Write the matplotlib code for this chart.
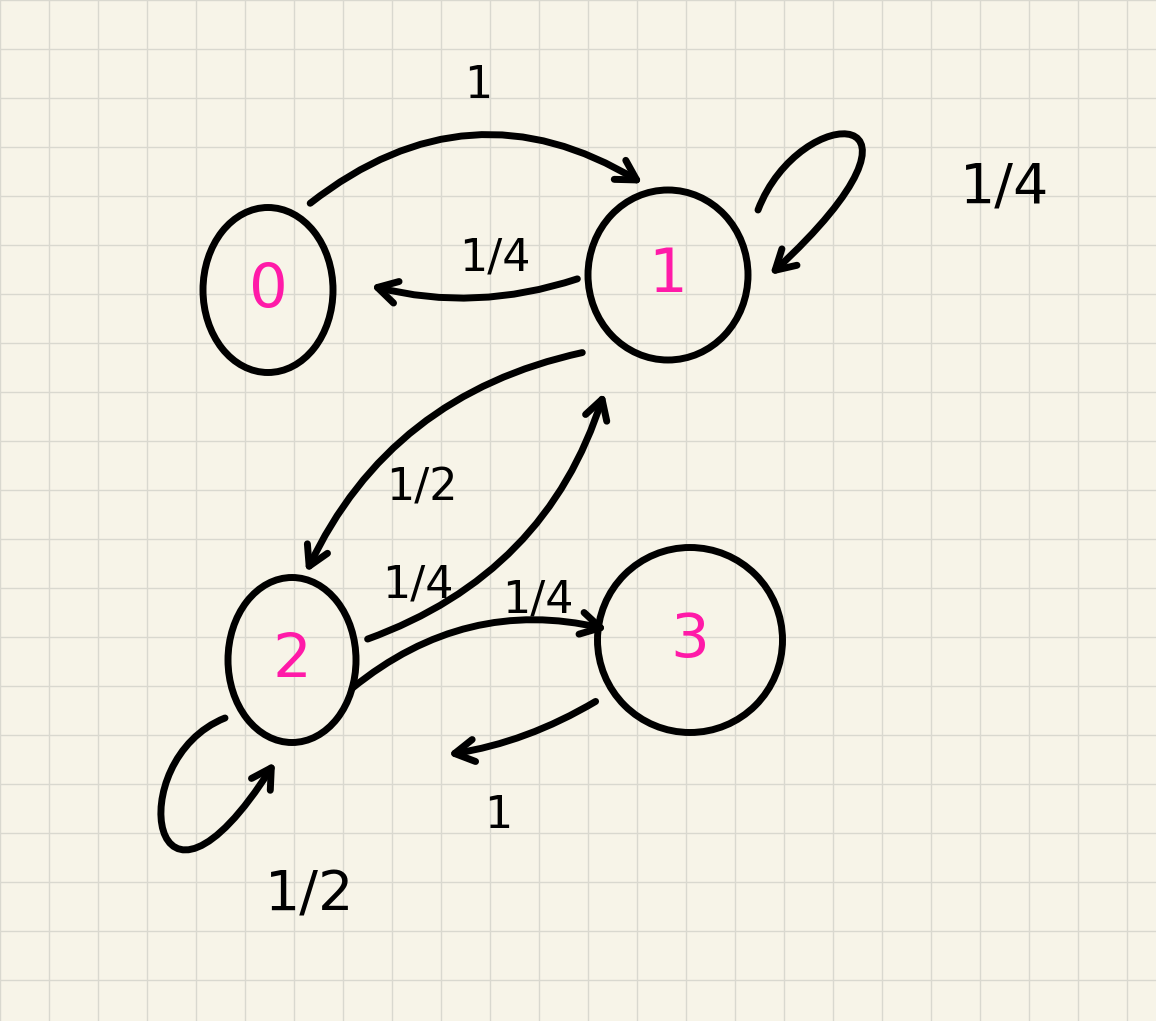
import matplotlib.pyplot as plt
import numpy as np
from matplotlib.patches import Ellipse, FancyArrowPatch
from matplotlib.path import Path

# states and their positions on the page (pixels)
states = ["0", "1", "2", "3"]
centers = [(268, 290), (668, 275), (292, 660), (690, 640)]
radii = [(130, 165), (160, 170), (128, 165), (185, 185)]

# edges: (start, end, curvature, label, label position)
edges = [
    ((308, 205), (645, 185), -0.35, "1", (478, 85)),
    ((580, 278), (368, 285), -0.15, "1/4", (495, 258)),
    ((585, 352), (305, 575), 0.25, "1/2", (422, 488)),
    ((365, 640), (605, 390), 0.25, "1/4", (418, 585)),
    ((350, 690), (610, 630), -0.25, "1/4", (538, 600)),
    ((598, 700), (445, 755), -0.1, "1", (498, 815)),
]
# self loops: start, control 1, control 2, end
loops = [
    [(758, 210), (800, 100), (960, 100), (770, 275)],
    [(225, 718), (120, 760), (150, 960), (275, 762)],
]
loop_labels = [("1/4", (1005, 188)), ("1/2", (310, 895))]

fig = plt.figure(figsize=(11.56, 10.21), dpi=100)
ax = fig.add_axes([0, 0, 1, 1])
ax.set_xlim(0, 1156)
ax.set_ylim(1021, 0)
ax.axis("off")
fig.patch.set_facecolor("#f7f4e8")

for gx in np.arange(0, 1156, 49):
    ax.axvline(gx, color="#d9d8cf", lw=1, zorder=0)
for gy in np.arange(0, 1021, 49):
    ax.axhline(gy, color="#d9d8cf", lw=1, zorder=0)

style = "->,head_length=14,head_width=8"

for s, c, r in zip(states, centers, radii):
    ax.add_patch(Ellipse(c, r[0], r[1], fill=False, ec="black", lw=5, zorder=3))
    ax.text(c[0], c[1], s, color="#ff1aa8", fontsize=44, ha="center", va="center")

for a, b, rad, lab, pos in edges:
    ax.add_patch(FancyArrowPatch(a, b, connectionstyle=f"arc3,rad={rad}",
                                 arrowstyle=style, lw=5, color="black", zorder=3))
    ax.text(pos[0], pos[1], lab, fontsize=32, ha="center", va="center")

for pts in loops:
    p = Path(pts, [Path.MOVETO, Path.CURVE4, Path.CURVE4, Path.CURVE4])
    ax.add_patch(FancyArrowPatch(path=p, arrowstyle=style, lw=5,
                                 color="black", zorder=3))
for lab, pos in loop_labels:
    ax.text(pos[0], pos[1], lab, fontsize=40, ha="center", va="center")

fig.savefig("out.png", dpi=100, facecolor=fig.get_facecolor())
